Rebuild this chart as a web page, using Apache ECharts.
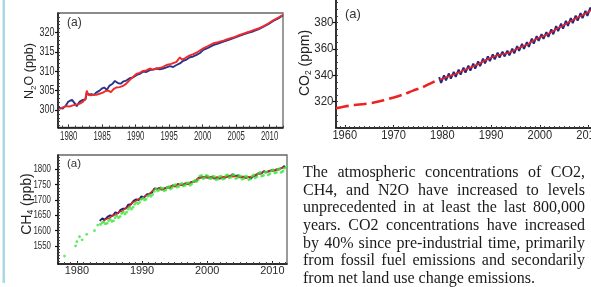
<!DOCTYPE html>
<html><head><meta charset="utf-8">
<script src="https://cdn.jsdelivr.net/npm/echarts@6/dist/echarts.min.js"></script>
<style>
html,body{margin:0;padding:0;background:#fff;}
#wrap{position:relative;width:591px;height:287px;overflow:hidden;background:#fff;}
#chart{position:absolute;left:0;top:0;width:591px;height:287px;}
#txt{position:absolute;left:303px;top:163px;width:282px;font-family:"Liberation Serif","Times New Roman",serif;font-size:16px;line-height:17.67px;text-align:justify;color:#1a1a1a;}
</style></head><body>
<div id="wrap"><div id="chart"></div>
<div id="txt">The atmospheric concentrations of CO2, CH4, and N2O have increased to levels unprecedented in at least the last 800,000 years. CO2 concentrations have increased by 40% since pre-industrial time, primarily from fossil fuel emissions and secondarily from net land use change emissions.</div>
</div>
<script>
// ---------- N2O (ppb) ----------
const n2oBlueYears = [1978.4,1978.8,1979.1,1979.5,1979.9,1980.2,1980.5,1980.9,1981.2,1981.6,1982.1,1982.5,1982.7,1983.0,1983.4,1983.8,1984.1,1984.6,1985.0,1985.3,1985.7,1986.1,1986.5,1986.9,1987.4,1987.8,1988.1,1988.6,1989.1,1989.6,1990.1,1990.6,1991.1,1991.6,1992.1,1992.6,1993.1,1993.6,1994.1,1994.6,1995.1,1995.6,1996.1,1996.6,1997.1,1997.6,1998.1,1998.6,1999.1,1999.6,2000.1,2000.8,2001.6,2002.3,2003.1,2003.8,2004.6,2005.3,2006.1,2006.8,2007.6,2008.3,2009.1,2009.8,2010.6,2011.3,2012.0];
const n2oBlueValues = [300.7,300.5,300.4,301.0,302.1,302.4,302.6,301.7,301.0,302.1,302.6,302.7,304.5,304.0,304.1,303.9,304.5,305.0,305.6,305.8,305.2,306.3,306.7,307.5,306.9,306.8,307.3,307.6,308.2,308.4,309.0,309.3,309.9,309.8,310.3,310.4,310.7,310.5,310.7,311.0,311.3,311.1,311.6,312.0,312.7,313.0,313.6,313.8,314.2,314.7,315.5,316.0,316.7,317.1,317.6,318.0,318.5,319.0,319.5,319.9,320.3,320.8,321.5,322.1,323.0,323.6,324.4];
const n2oRedYears = [1978.6,1979.0,1979.6,1980.1,1980.6,1981.1,1981.6,1982.1,1982.5,1982.7,1982.9,1983.3,1983.7,1984.1,1984.6,1985.1,1985.5,1985.9,1986.3,1986.7,1987.1,1987.6,1988.1,1988.6,1989.1,1989.6,1990.1,1990.6,1991.1,1991.6,1992.1,1992.6,1993.1,1993.8,1994.6,1995.3,1996.1,1996.6,1996.9,1997.4,1998.0,1998.6,1999.3,2000.1,2000.8,2001.6,2002.3,2003.1,2003.8,2004.6,2005.3,2006.1,2006.8,2007.6,2008.3,2009.1,2009.8,2010.6,2011.3,2012.0];
const n2oRedValues = [300.2,300.6,301.0,300.9,301.2,301.4,301.6,302.1,302.9,305.0,303.9,303.8,303.9,303.9,304.2,304.5,304.9,305.0,304.6,305.4,305.8,305.9,306.2,306.8,307.7,308.5,309.3,309.6,310.1,310.2,310.7,310.4,310.7,310.9,311.6,311.9,312.4,313.6,313.0,313.4,314.0,314.4,315.0,315.9,316.5,317.2,317.5,317.9,318.3,318.7,319.2,319.7,320.1,320.6,321.0,321.6,322.3,323.2,323.8,324.5];
const n2oXLabels = [1980,1985,1990,1995,2000,2005,2010];
const n2oYLabels = [300,305,310,315,320];

// ---------- CO2 (ppm) ----------
const co2EarlyYears = [1958.2,1960,1962,1964,1966,1968,1970,1972,1974,1976,1978,1979.5];
const co2EarlyValues = [315.0,316.3,317.4,318.2,319.3,321.0,323.1,325.4,328.3,331.0,334.6,336.6];
const co2TrendYears = [1979.5,1980.5,1981.5,1982.5,1983.5,1984.5,1985.5,1986.5,1987.5,1988.5,1989.5,1990.5,1991.5,1992.5,1993.5,1994.5,1995.5,1996.5,1997.5,1998.5,1999.5,2000.5,2001.5,2002.5,2003.5,2004.5,2005.5,2006.5,2007.5,2008.5,2009.5,2010.5,2011.5,2012.5,2013.5,2014.5];
const co2TrendValues = [336.6,338.0,339.4,340.7,342.3,343.9,345.4,346.9,348.6,350.8,352.5,353.9,355.3,356.1,356.8,358.4,360.3,361.9,363.2,365.9,367.9,369.3,370.9,372.9,375.3,377.1,379.3,381.3,383.3,385.1,386.9,389.3,391.1,393.1,395.5,397.3];
// seasonal high (spring) and low (autumn) per year, 1979..2014
const co2BlueFirstYear = 1979;
const co2BlueValues = [338.5,334.2,339.8,336.0,341.3,337.4,342.5,338.8,344.2,340.4,345.8,342.0,347.3,343.5,348.8,345.0,350.4,346.8,352.6,349.0,354.3,350.6,355.7,352.0,357.1,353.4,357.9,354.2,358.6,355.0,360.2,356.6,362.1,358.5,363.7,360.0,365.0,361.4,367.8,364.0,369.7,366.0,371.1,367.5,372.7,369.0,374.8,371.0,377.2,373.4,379.0,375.2,381.2,377.4,383.2,379.4,385.2,381.4,387.0,383.2,388.8,385.0,391.2,387.4,393.0,389.2,395.0,391.2,397.4,393.6,399.2,395.4];
const co2XLabels = [1960,1970,1980,1990,2000,2010];
const co2YLabels = [320,340,360,380];

// ---------- CH4 (ppb) ----------
const ch4BlueStart = 1983.5, ch4BlueStep = 0.4;
const ch4BlueValues = [1632,1640,1636,1645,1650,1648,1660,1656,1668,1672,1672,1685,1686,1697,1702,1700,1712,1708,1718,1720,1724,1738,1736,1740,1734,1738,1742,1740,1748,1745,1752,1750,1748,1755,1752,1758,1760,1762,1772,1776,1772,1778,1772,1776,1770,1774,1770,1775,1772,1778,1776,1784,1778,1780,1774,1776,1772,1776,1770,1778,1780,1788,1786,1794,1790,1794,1798,1796,1800,1802,1805,1812];
const ch4RedStart = 1984.0, ch4RedStep = 0.5;
const ch4RedValues = [1630,1638,1640,1650,1652,1662,1664,1674,1678,1692,1696,1704,1704,1714,1716,1728,1736,1738,1733,1740,1740,1746,1744,1752,1748,1754,1752,1758,1758,1770,1772,1776,1772,1774,1770,1774,1772,1776,1774,1780,1776,1778,1774,1777,1772,1776,1776,1784,1784,1792,1790,1796,1794,1800,1798,1806,1806];
const ch4GreenEarlyYears = [1978.1,1979.8,1980.0,1980.4,1980.8,1981.5,1982.7,1983.2];
const ch4GreenEarlyValues = [1517,1550,1564,1580,1570,1588,1600,1618];
const ch4GreenStart = 1983.625, ch4GreenStep = 0.25;
const ch4GreenValues = [1620,1626,
1628,1622,1624,1632, 1636,1630,1632,1642, 1648,1642,1646,1656, 1660,1654,1660,1670,
1676,1670,1676,1686, 1692,1688,1692,1702, 1706,1700,1702,1712, 1716,1712,1718,1728,
1736,1730,1732,1740, 1738,1730,1732,1740, 1744,1736,1740,1748, 1750,1742,1744,1752,
1754,1746,1748,1756, 1756,1748,1752,1760, 1764,1760,1766,1778, 1780,1770,1772,1780,
1778,1770,1770,1778, 1776,1766,1768,1776, 1778,1768,1770,1780, 1782,1772,1774,1782,
1782,1770,1772,1780, 1778,1768,1770,1778, 1776,1766,1768,1778, 1782,1772,1776,1786,
1790,1778,1780,1790, 1792,1782,1786,1796, 1798,1788,1790,1800, 1802,1790,1794,1804,
1808];
const ch4XLabels = [1980,1990,2000,2010];
const ch4YLabels = [1550,1600,1650,1700,1750,1800];

// ---------- helpers ----------
const zip = (xs, ys) => ys.map((v, i) => [xs[i], v]);
const stepped = (start, step, ys) => ys.map((v, i) => [+(start + i * step).toFixed(3), v]);
const co2BluePairs = co2BlueValues.map((v, i) => [co2BlueFirstYear + Math.floor(i / 2) + (i % 2 ? 0.75 : 0.35), v]);
const range = (a, b, s) => { const r = []; for (let v = a; v <= b + 1e-9; v += s) r.push(+v.toFixed(3)); return r; };

const SANS = '"Liberation Sans", Arial, sans-serif';
const INK = '#111';
const LBL = '#2b2b2b';

function xMajor(g, min, max, vals) {
  return { type: 'value', gridIndex: g, min, max, position: 'bottom',
    axisLine: { onZero: false, lineStyle: { color: INK, width: 1.5 } },
    axisTick: { show: true, inside: true, length: 3, customValues: vals, lineStyle: { color: INK, width: 1 } },
    axisLabel: { show: false }, splitLine: { show: false } };
}
function xMinor(g, min, max, vals) {
  return { type: 'value', gridIndex: g, min, max, position: 'bottom',
    axisLine: { show: false, onZero: false },
    axisTick: { show: true, inside: true, length: 2, customValues: vals, lineStyle: { color: '#444', width: 1 } },
    axisLabel: { show: false }, splitLine: { show: false } };
}
function yMajor(g, min, max, vals) {
  return { type: 'value', gridIndex: g, min, max, position: 'left',
    axisLine: { onZero: false, lineStyle: { color: INK, width: 1.5 } },
    axisTick: { show: true, inside: false, length: 3, customValues: vals, lineStyle: { color: INK, width: 1.2 } },
    axisLabel: { show: false }, splitLine: { show: false } };
}
function yMinor(g, min, max, vals) {
  return { type: 'value', gridIndex: g, min, max, position: 'left',
    axisLine: { show: false, onZero: false },
    axisTick: { show: true, inside: true, length: 2, customValues: vals, lineStyle: { color: '#444', width: 1 } },
    axisLabel: { show: false }, splitLine: { show: false } };
}

const chart = echarts.init(document.getElementById('chart'), null, { renderer: 'canvas' });
const gridStyle = { show: true, borderColor: '#666', borderWidth: 1.3, backgroundColor: 'transparent', containLabel: false, outerBoundsMode: 'none' };

const n2oX = [1978.4, 2012.0], n2oY = [295.5, 325];
const co2X = [1958.2, 2015], co2Y = [300, 400];
const ch4X = [1977.1, 2012.25], ch4Y = [1491, 1847];

const option = {
  animation: false,
  backgroundColor: 'transparent',
  grid: [
    Object.assign({ left: 58, top: 13, width: 225, height: 114.5 }, gridStyle),
    Object.assign({ left: 336, top: -4, width: 277, height: 132 }, gridStyle),
    Object.assign({ left: 58, top: 155, width: 229, height: 109 }, gridStyle)
  ],
  xAxis: [
    xMajor(0, n2oX[0], n2oX[1], n2oXLabels),
    xMinor(0, n2oX[0], n2oX[1], range(1979, 2012, 1)),
    xMajor(1, co2X[0], co2X[1], co2XLabels),
    xMinor(1, co2X[0], co2X[1], range(1959, 2015, 1)),
    xMajor(2, ch4X[0], ch4X[1], ch4XLabels),
    xMinor(2, ch4X[0], ch4X[1], range(1978, 2012, 1))
  ],
  yAxis: [
    yMajor(0, n2oY[0], n2oY[1], n2oYLabels),
    yMinor(0, n2oY[0], n2oY[1], range(296, 325, 1)),
    yMajor(1, co2Y[0], co2Y[1], co2YLabels),
    yMinor(1, co2Y[0], co2Y[1], range(300, 400, 5)),
    yMajor(2, ch4Y[0], ch4Y[1], ch4YLabels),
    yMinor(2, ch4Y[0], ch4Y[1], range(1500, 1840, 10))
  ],
  series: [
    { type: 'line', xAxisIndex: 0, yAxisIndex: 0, data: zip(n2oBlueYears, n2oBlueValues), showSymbol: false,
      lineStyle: { color: '#27348b', width: 1.9 }, z: 2 },
    { type: 'line', xAxisIndex: 0, yAxisIndex: 0, data: zip(n2oRedYears, n2oRedValues), showSymbol: false,
      lineStyle: { color: '#ee2a2a', width: 1.9 }, z: 3 },
    { type: 'line', xAxisIndex: 2, yAxisIndex: 2, data: co2BluePairs, showSymbol: false,
      lineStyle: { color: '#1f2a80', width: 2 }, z: 2 },
    { type: 'line', xAxisIndex: 2, yAxisIndex: 2, data: zip(co2TrendYears, co2TrendValues), showSymbol: false,
      lineStyle: { color: '#ee2222', width: 1.6 }, z: 3 },
    { type: 'line', xAxisIndex: 2, yAxisIndex: 2, data: zip(co2EarlyYears, co2EarlyValues), showSymbol: false, smooth: 0.3,
      lineStyle: { color: '#ee2222', width: 2.6, type: [13, 5] }, z: 3 },
    { type: 'line', xAxisIndex: 4, yAxisIndex: 4, data: stepped(ch4BlueStart, ch4BlueStep, ch4BlueValues), showSymbol: false,
      lineStyle: { color: '#1a237e', width: 1.9 }, z: 2 },
    { type: 'line', xAxisIndex: 4, yAxisIndex: 4, data: stepped(ch4RedStart, ch4RedStep, ch4RedValues), showSymbol: false,
      lineStyle: { color: '#e82020', width: 1.5 }, z: 3 },
    { type: 'scatter', xAxisIndex: 4, yAxisIndex: 4,
      data: zip(ch4GreenEarlyYears, ch4GreenEarlyValues).concat(stepped(ch4GreenStart, ch4GreenStep, ch4GreenValues)),
      symbol: 'circle', symbolSize: 2.8, itemStyle: { color: '#39e639' }, z: 4 }
  ]
};
chart.setOption(option);

// ---------- text: tick labels placed through the axes' own scales ----------
const graphic = [
  { type: 'rect', shape: { x: 2.5, y: 0, width: 2.5, height: 283 }, style: { fill: '#a9d9e6' }, silent: true },
  { type: 'text', x: 30, y: 71, rotation: Math.PI / 2,
    style: { text: '{a|N}{s|2}{a|O (ppb)}', align: 'center', verticalAlign: 'middle',
      rich: { a: { fontSize: 12.5, fontFamily: SANS, fill: '#222', lineHeight: 15 },
              s: { fontSize: 8, fontFamily: SANS, fill: '#222', lineHeight: 15, verticalAlign: 'bottom' } } } },
  { type: 'text', x: 305, y: 63, rotation: Math.PI / 2,
    style: { text: '{a|CO}{s|2}{a| (ppm)}', align: 'center', verticalAlign: 'middle',
      rich: { a: { fontSize: 14, fontFamily: SANS, fill: '#222', lineHeight: 16 },
              s: { fontSize: 8.5, fontFamily: SANS, fill: '#222', lineHeight: 16, verticalAlign: 'bottom' } } } },
  { type: 'text', x: 27.5, y: 204, rotation: Math.PI / 2,
    style: { text: '{a|CH}{s|4}{a| (ppb)}', align: 'center', verticalAlign: 'middle',
      rich: { a: { fontSize: 14, fontFamily: SANS, fill: '#222', lineHeight: 16 },
              s: { fontSize: 8.5, fontFamily: SANS, fill: '#222', lineHeight: 16, verticalAlign: 'bottom' } } } },
  { type: 'text', x: 67, y: 23, style: { text: '(a)', font: '12px ' + SANS, fill: '#333', verticalAlign: 'middle' } },
  { type: 'text', x: 345, y: 14.5, style: { text: '(a)', font: '13px ' + SANS, fill: '#333', verticalAlign: 'middle' } },
  { type: 'text', x: 67, y: 164, style: { text: '(a)', font: '11.5px ' + SANS, fill: '#333', verticalAlign: 'middle' } }
];
function xLabels(axisIndex, vals, y, fs, sx) {
  vals.forEach(v => {
    const px = chart.convertToPixel({ xAxisIndex: axisIndex }, v);
    graphic.push({ type: 'text', x: px, y: y, scaleX: sx,
      style: { text: String(v), align: 'center', verticalAlign: 'middle', font: fs + 'px ' + SANS, fill: LBL } });
  });
}
function yLabels(axisIndex, vals, x, fs, sx) {
  vals.forEach(v => {
    const py = chart.convertToPixel({ yAxisIndex: axisIndex }, v);
    graphic.push({ type: 'text', x: x, y: py, scaleX: sx,
      style: { text: String(v), align: 'right', verticalAlign: 'middle', font: fs + 'px ' + SANS, fill: LBL } });
  });
}
xLabels(0, n2oXLabels, 136, 13, 0.6);
yLabels(0, n2oYLabels, 54.5, 12.5, 0.72);
xLabels(2, co2XLabels, 135, 13.5, 0.82);
yLabels(2, co2YLabels, 333.5, 12.5, 0.92);
xLabels(4, ch4XLabels, 271, 11.5, 0.95);
yLabels(4, ch4YLabels, 51, 11, 0.72);
chart.setOption({ graphic: graphic });
</script>
</body></html>
